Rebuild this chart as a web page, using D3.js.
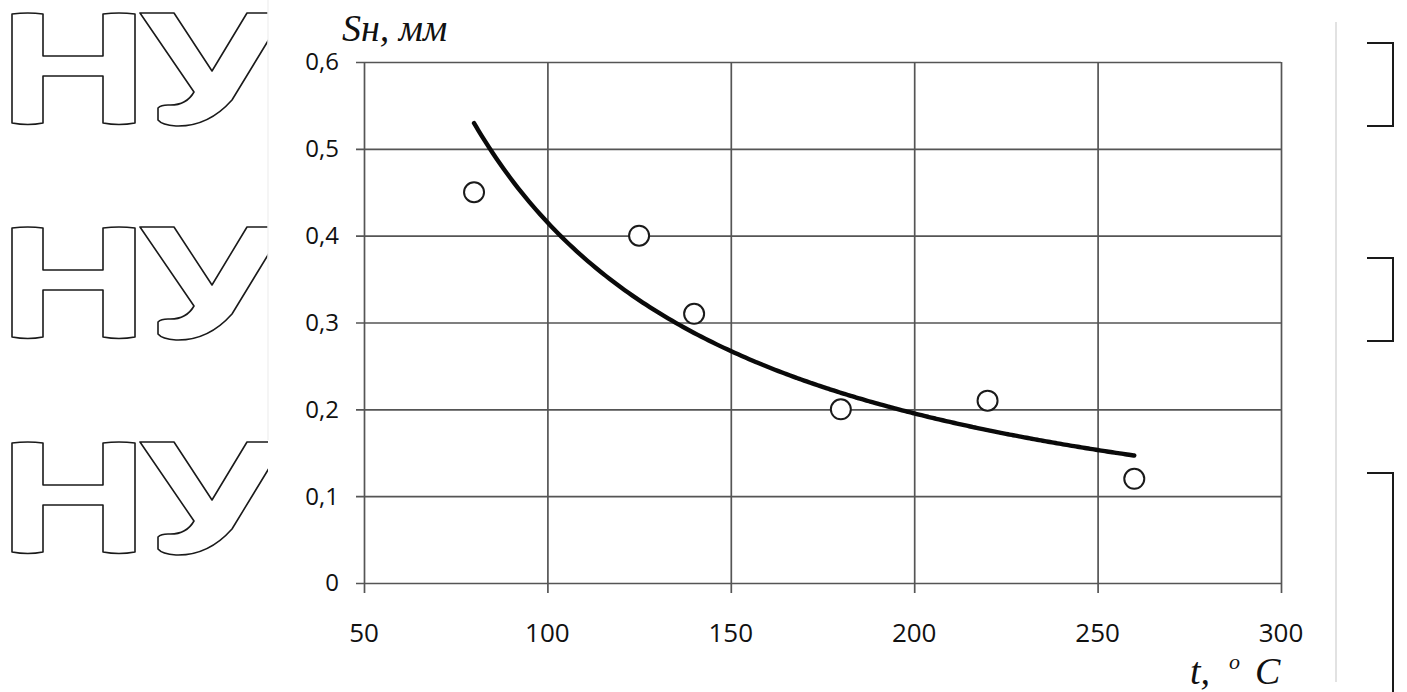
<!DOCTYPE html>
<html>
<head>
<meta charset="utf-8">
<script src="https://cdn.jsdelivr.net/npm/d3@7/dist/d3.min.js"></script>
<style>
  html, body { margin: 0; padding: 0; background: #fff; }
  svg { display: block; }
</style>
</head>
<body>
<svg id="chart" width="1407" height="692"></svg>
<script>
// Measured points: heating temperature vs. nominal thickness
const temps = [80, 125, 140, 180, 220, 260];
const thickness = [0.45, 0.40, 0.31, 0.20, 0.21, 0.12];

// Axis ticks
const xTicks = [50, 100, 150, 200, 250, 300];
const yTicks = [0, 0.1, 0.2, 0.3, 0.4, 0.5, 0.6];

const svg = d3.select("#chart");
const W = 1407, H = 692;

// Plot box
const plotL = 364, plotR = 1281, plotT = 62, plotB = 583;

const x = d3.scaleLinear().domain([50, 300]).range([plotL, plotR]);
const y = d3.scaleLinear().domain([0, 0.6]).range([plotB, plotT]);

const ru = d3.formatLocale({ decimal: ",", thousands: " ", grouping: [3], currency: ["", ""] });
const fmtY = d => d === 0 ? "0" : ru.format(".1f")(d);

// ---- background decoration: outlined letters on the left, brackets on the right ----
const deco = svg.append("g").attr("class", "deco");
deco.append("defs").append("clipPath").attr("id", "leftClip")
  .append("rect").attr("x", 0).attr("y", 0).attr("width", 268).attr("height", H);

// Outline of the "НУ" mark, in local units (origin at the top-left of the letters)
const letterH = "M2,2 Q18,0 33,2 L33,44 L93,44 L93,2 Q109,0 125,2 L125,111 Q109,114 93,111 L93,64 L33,64 L33,111 Q18,114 2,111 Z";
const letterU = "M130,1 L164,1 L202,59 L237,1 L275,1 L222,88 Q198,115 166,114 Q152,113 148,108 L148,96 Q151,93 158,93 Q176,94 184,80 Z";
const marks = deco.append("g").attr("clip-path", "url(#leftClip)");
[12, 226, 441].forEach(oy => {
  const g = marks.append("g").attr("transform", `translate(10,${oy})`);
  g.append("path").attr("d", letterH);
  g.append("path").attr("d", letterU);
});
marks.selectAll("path")
  .attr("fill", "none").attr("stroke", "#1a1a1a").attr("stroke-width", 1.6)
  .attr("stroke-linejoin", "round");

deco.append("line").attr("x1", 268).attr("x2", 268).attr("y1", 0).attr("y2", 440)
  .attr("stroke", "#f2f2f2").attr("stroke-width", 1.5);
deco.append("line").attr("x1", 1336).attr("x2", 1336).attr("y1", 22).attr("y2", 682)
  .attr("stroke", "#cfcfcf").attr("stroke-width", 1.2);

[[43, 126], [258, 341], [473, 720]].forEach(([t, b]) => {
  deco.append("path")
    .attr("d", `M1367,${t} L1393,${t} L1393,${b} L1367,${b}`)
    .attr("fill", "none").attr("stroke", "#1a1a1a").attr("stroke-width", 2);
});

// ---- grid and axes ----
const gridColor = "#555";
const gx = svg.append("g").attr("transform", `translate(0,${plotB})`)
  .call(d3.axisBottom(x).tickValues(xTicks).tickSize(-(plotB - plotT)).tickFormat(""))
  .call(g => g.select(".domain").remove());
gx.selectAll(".tick line").attr("stroke", gridColor).attr("stroke-width", 1.7)
  .attr("y1", 10);

const gy = svg.append("g").attr("transform", `translate(${plotL},0)`)
  .call(d3.axisLeft(y).tickValues(yTicks).tickSize(-(plotR - plotL)).tickFormat(""))
  .call(g => g.select(".domain").remove());
gy.selectAll(".tick line").attr("stroke", gridColor).attr("stroke-width", 1.7)
  .attr("x1", -8);

// Tick labels
svg.append("g").selectAll("text").data(yTicks).join("text")
  .attr("x", 339).attr("y", d => y(d)).attr("dy", "0.35em")
  .attr("text-anchor", "end")
  .attr("font-family", "'Open Sans', sans-serif").attr("font-size", 24)
  .attr("fill", "#111")
  .text(fmtY);

svg.append("g").selectAll("text").data(xTicks).join("text")
  .attr("x", d => x(d)).attr("y", 642)
  .attr("text-anchor", "middle")
  .attr("font-family", "'Open Sans', sans-serif").attr("font-size", 26)
  .attr("fill", "#111")
  .text(d => d);

// Axis titles
const serif = "'Liberation Serif', 'Times New Roman', serif";
svg.append("text").attr("x", 342).attr("y", 41)
  .attr("font-family", serif).attr("font-style", "italic").attr("font-size", 38)
  .attr("fill", "#111")
  .text("Sн, мм");

const tTitle = svg.append("text").attr("x", 1190).attr("y", 684)
  .attr("font-family", serif).attr("font-style", "italic").attr("font-size", 38)
  .attr("fill", "#111");
tTitle.append("tspan").text("t,");
tTitle.append("tspan").attr("x", 1229).attr("y", 669).attr("font-size", 22).text("o");
tTitle.append("tspan").attr("x", 1255).attr("y", 684).text("C");

// ---- power trend line fitted to the measured points ----
const lx = temps.map(Math.log), ly = thickness.map(Math.log);
const mx = d3.mean(lx), my = d3.mean(ly);
const pb = d3.sum(lx, (v, i) => (v - mx) * (ly[i] - my)) / d3.sum(lx, v => (v - mx) ** 2);
const pa = Math.exp(my - pb * mx);
const trendX = d3.range(d3.min(temps), d3.max(temps) + 0.5, 1);
svg.append("path")
  .datum(trendX)
  .attr("fill", "none").attr("stroke", "#0a0a0a").attr("stroke-width", 4.4)
  .attr("stroke-linecap", "round")
  .attr("d", d3.line().x(d => x(d)).y(d => y(pa * Math.pow(d, pb))).curve(d3.curveBasis));

// ---- measured points ----
svg.append("g").selectAll("circle").data(temps).join("circle")
  .attr("cx", d => x(d)).attr("cy", (d, i) => y(thickness[i]))
  .attr("r", 10)
  .attr("fill", "#fff").attr("stroke", "#1a1a1a").attr("stroke-width", 2);
</script>
</body>
</html>
